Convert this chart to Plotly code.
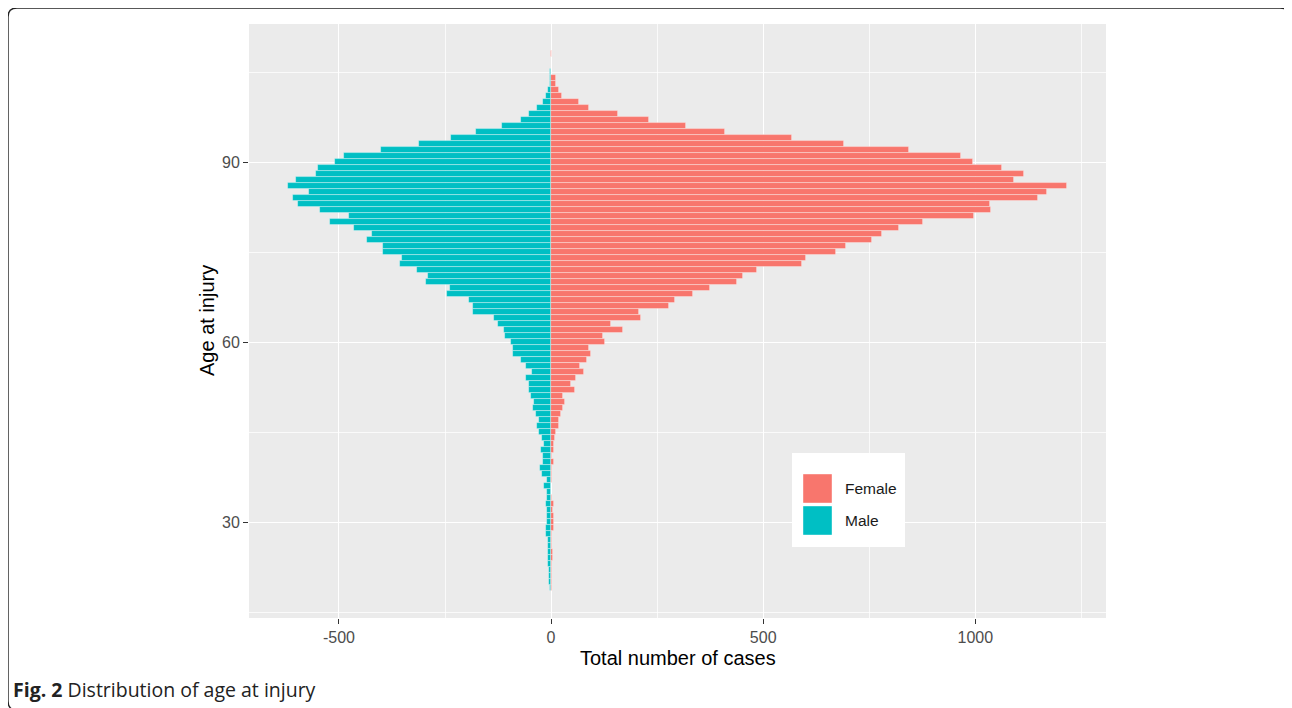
import plotly.graph_objects as go

# ---------------- data ----------------
ages = [108, 105, 104, 103, 102, 101, 100, 99, 98, 97, 96, 95, 94, 93, 92, 91, 90,
        89, 88, 87, 86, 85, 84, 83, 82, 81, 80, 79, 78, 77, 76, 75, 74, 73, 72, 71, 70,
        69, 68, 67, 66, 65, 64, 63, 62, 61, 60, 59, 58, 57, 56, 55, 54, 53, 52, 51, 50,
        49, 48, 47, 46, 45, 44, 43, 42, 41, 40, 39, 38, 37, 36, 35, 34, 33, 32, 31, 30,
        29, 28, 27, 26, 25, 24, 23, 22, 21, 20, 19]

male = [0, 3, 3, 3, 8, 11, 20, 34, 51, 72, 115, 178, 237, 312, 402, 488, 509,
        550, 553, 601, 620, 570, 609, 596, 545, 476, 522, 465, 422, 434, 397, 395, 352, 355, 316, 290, 294,
        238, 245, 193, 185, 185, 134, 126, 111, 108, 95, 89, 90, 71, 60, 46, 60, 51, 51, 48, 40,
        43, 35, 28, 34, 29, 21, 16, 24, 20, 18, 26, 21, 10, 16, 9, 9, 12, 9, 9, 9,
        13, 12, 7, 7, 7, 7, 7, 4, 4, 4, 3]

female = [1, 0, 12, 12, 19, 25, 66, 89, 158, 231, 317, 409, 568, 691, 844, 967, 995,
          1064, 1114, 1090, 1216, 1169, 1148, 1035, 1036, 997, 876, 821, 780, 756, 695, 671, 602, 592, 486, 453, 439,
          375, 335, 292, 277, 207, 213, 142, 170, 123, 128, 90, 93, 84, 67, 78, 58, 46, 57, 29, 32,
          28, 24, 19, 19, 12, 9, 8, 6, 3, 6, 3, 3, 2, 0, 0, 1, 6, 5, 6, 6,
          6, 2, 3, 2, 5, 5, 2, 2, 2, 1, 1]

x_ticks = [-500, 0, 500, 1000]
y_ticks = [30, 60, 90]
series_names = ["Female", "Male"]
series_colors = ["#F8766D", "#00BFC4"]
caption_bold = "Fig. 2"
caption_rest = "Distribution of age at injury"
x_title = "Total number of cases"
y_title = "Age at injury"

# ---------------- layout geometry ----------------
# The page body adds an 8px margin, so every pixel position is shifted by OFF.
OFF = 8
W, H = 1292 - OFF, 708 - OFF
L, R, T, B = 249 - OFF, 1106 - OFF, 24 - OFF, 618 - OFF   # panel edges (figure pixels)


def px(x):
    """screen pixel x -> paper"""
    return (x - OFF - L) / (R - L)


def py(y):
    """screen pixel y -> paper"""
    return (B - (y - OFF)) / (B - T)


fig = go.Figure()
fig.add_trace(go.Bar(
    y=ages, x=female, orientation="h", name=series_names[0],
    marker=dict(color=series_colors[0], line=dict(color="rgba(255,255,255,0.45)", width=0.8)),
    width=1.0, showlegend=False,
))
fig.add_trace(go.Bar(
    y=ages, x=[-v for v in male], orientation="h", name=series_names[1],
    marker=dict(color=series_colors[1], line=dict(color="rgba(255,255,255,0.45)", width=0.8)),
    width=1.0, showlegend=False,
))

tick_font = dict(family="Liberation Sans, Arial, sans-serif", size=16, color="#4D4D4D")

fig.update_layout(
    width=W, height=H,
    margin=dict(l=L, r=W - R, t=T, b=H - B, pad=0),
    paper_bgcolor="white",
    plot_bgcolor="#EBEBEB",
    barmode="relative",
    bargap=0,
    xaxis=dict(
        range=[-712, 1308], tickvals=x_ticks, ticktext=[str(v) for v in x_ticks],
        showgrid=True, gridcolor="white", gridwidth=1.3, zeroline=False,
        ticks="outside", ticklen=5, tickwidth=1.1, tickcolor="#333333",
        tickfont=tick_font, showline=False,
        minor=dict(dtick=250, tick0=0, showgrid=True, gridcolor="rgba(255,255,255,0.75)", gridwidth=0.6, ticks=""),
    ),
    yaxis=dict(
        range=[14, 113], tickvals=y_ticks, ticktext=[str(v) for v in y_ticks],
        showgrid=True, gridcolor="white", gridwidth=1.3, zeroline=False,
        ticks="outside", ticklen=5, tickwidth=1.1, tickcolor="#333333",
        tickfont=tick_font, showline=False,
        minor=dict(dtick=15, tick0=0, showgrid=True, gridcolor="rgba(255,255,255,0.75)", gridwidth=0.6, ticks=""),
    ),
    font=dict(family="Liberation Sans, Arial, sans-serif"),
)

# ---------------- legend (drawn as a box with keys) ----------------
shapes = []
shapes.append(dict(type="rect", xref="paper", yref="paper",
                   x0=px(792), x1=px(905), y0=py(547), y1=py(453),
                   fillcolor="white", line=dict(width=0), layer="above"))
key_rows = [(474, 503), (506, 535)]
for (y0, y1), col in zip(key_rows, series_colors):
    shapes.append(dict(type="rect", xref="paper", yref="paper",
                       x0=px(803), x1=px(832), y0=py(y1), y1=py(y0),
                       fillcolor=col, line=dict(color="rgba(255,255,255,0.5)", width=0.8), layer="above"))

# ---------------- outer rounded frame ----------------
def P(x, y):
    return f"{px(x):.5f},{py(y):.5f}"


x0f, y0f, x1f, y1f, r = 8, 8, 1289, 710, 9
path = (f"M {P(x0f, y0f + r)} Q {P(x0f, y0f)} {P(x0f + r, y0f)} "
        f"L {P(x1f - r, y0f)} Q {P(x1f, y0f)} {P(x1f, y0f + r)} "
        f"L {P(x1f, y1f - r)} Q {P(x1f, y1f)} {P(x1f - r, y1f)} "
        f"L {P(x0f + r, y1f)} Q {P(x0f, y1f)} {P(x0f, y1f - r)} Z")
shapes.append(dict(type="path", xref="paper", yref="paper", path=path,
                   line=dict(color="#222222", width=1.4), layer="above"))
fig.update_layout(shapes=shapes)

annotations = []
for (y0, y1), name in zip(key_rows, series_names):
    annotations.append(dict(xref="paper", yref="paper", x=px(843), y=py((y0 + y1) / 2),
                            text=name, showarrow=False, xanchor="left", yanchor="middle",
                            font=dict(family="Liberation Sans, Arial, sans-serif", size=15.5, color="#1A1A1A")))
annotations.append(dict(xref="paper", yref="paper", x=px(677.5), y=py(658),
                        text=x_title, showarrow=False, xanchor="center", yanchor="middle",
                        font=dict(family="Liberation Sans, Arial, sans-serif", size=20, color="black")))
annotations.append(dict(xref="paper", yref="paper", x=px(207), y=py(321),
                        text=y_title, showarrow=False, xanchor="center", yanchor="middle", textangle=-90,
                        font=dict(family="Liberation Sans, Arial, sans-serif", size=20, color="black")))
annotations.append(dict(xref="paper", yref="paper", x=px(11), y=py(689),
                        text=f"<b>{caption_bold}</b> {caption_rest}", showarrow=False,
                        xanchor="left", yanchor="middle",
                        font=dict(family="Open Sans, Noto Sans, sans-serif", size=19.5, color="#222222")))
fig.update_layout(annotations=annotations)

fig.write_html("out.html")
